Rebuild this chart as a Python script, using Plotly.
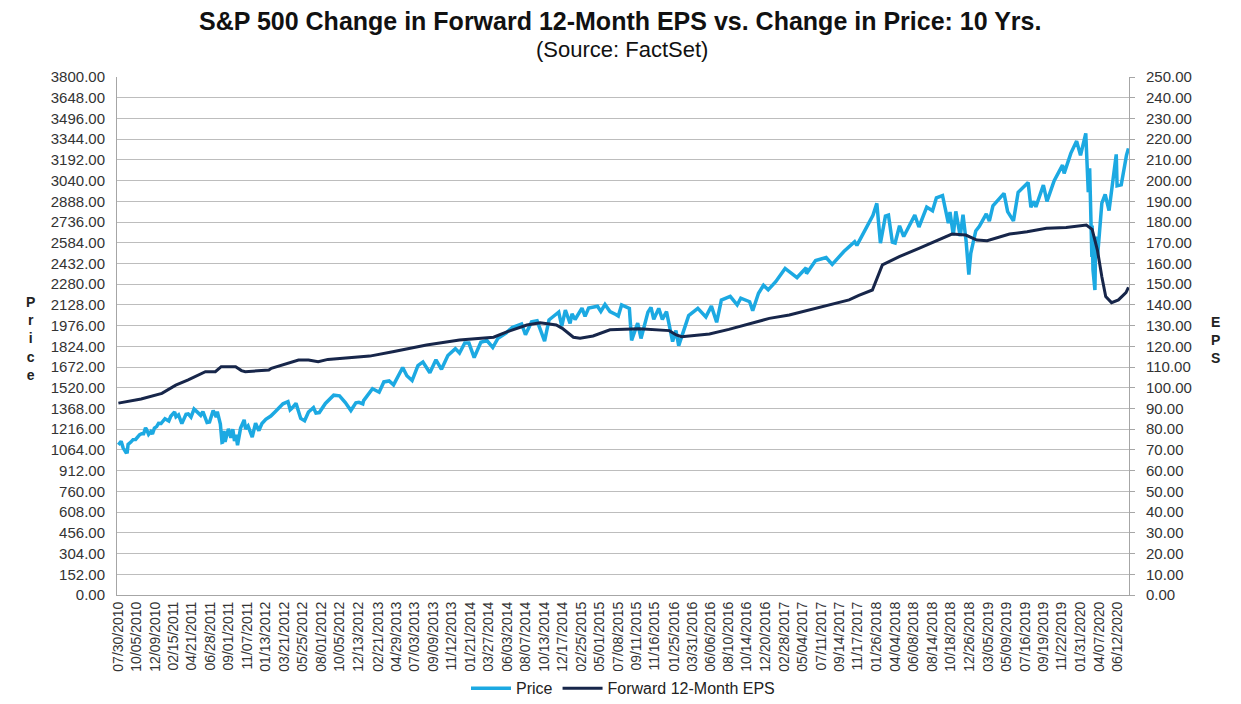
import plotly.graph_objects as go
from datetime import datetime

# ---------------- data ----------------
price_dates = [
    "2010-07-30","2010-08-05","2010-08-09","2010-08-16","2010-08-24","2010-08-26","2010-08-31","2010-09-03",
    "2010-09-13","2010-09-21","2010-09-30","2010-10-08","2010-10-15","2010-10-22","2010-10-29","2010-11-05",
    "2010-11-09","2010-11-16","2010-11-24","2010-11-30","2010-12-07","2010-12-15","2010-12-22","2010-12-31",
    "2011-01-14","2011-01-28","2011-02-04","2011-02-18","2011-02-23","2011-03-04","2011-03-10","2011-03-16",
    "2011-03-31","2011-04-08","2011-04-18","2011-04-29","2011-05-13","2011-05-23","2011-05-31","2011-06-15",
    "2011-06-24","2011-07-07","2011-07-18","2011-07-22","2011-08-02","2011-08-08","2011-08-10","2011-08-15",
    "2011-08-19","2011-08-31","2011-09-09","2011-09-16","2011-09-22","2011-09-27","2011-10-03","2011-10-14",
    "2011-10-27","2011-11-01","2011-11-10","2011-11-25","2011-12-07","2011-12-19","2011-12-30",
    "2012-01-13","2012-01-31","2012-02-15","2012-03-01","2012-03-15","2012-04-02","2012-04-10","2012-04-16",
    "2012-05-01","2012-05-18","2012-06-01","2012-06-15","2012-07-03","2012-07-12","2012-07-24","2012-08-15",
    "2012-09-14","2012-10-05","2012-10-26","2012-11-15","2012-12-03","2012-12-14","2012-12-28","2012-12-31",
    "2013-01-15","2013-02-01","2013-02-25","2013-03-14","2013-04-02","2013-04-18","2013-05-21","2013-06-05",
    "2013-06-24","2013-07-15","2013-08-02","2013-08-27","2013-09-18","2013-10-08","2013-10-31","2013-11-27",
    "2013-12-12","2013-12-31",
    "2014-01-15","2014-02-03","2014-02-27","2014-03-21","2014-04-11","2014-04-30","2014-05-30","2014-06-20",
    "2014-07-24","2014-08-07","2014-08-29","2014-09-18","2014-10-15","2014-10-31","2014-11-13","2014-12-05",
    "2014-12-16","2014-12-29",
    "2015-01-15","2015-01-22","2015-02-02","2015-02-27","2015-03-10","2015-03-23","2015-04-24","2015-05-06",
    "2015-05-21","2015-06-08","2015-06-29","2015-07-08","2015-07-20","2015-08-17","2015-08-25","2015-09-16",
    "2015-09-28","2015-10-23","2015-11-03","2015-11-13","2015-12-01","2015-12-14","2015-12-29",
    "2016-01-20","2016-02-01","2016-02-11","2016-03-18","2016-04-20","2016-05-19","2016-06-08","2016-06-27",
    "2016-07-14","2016-08-15","2016-09-09","2016-09-22","2016-10-24","2016-11-04","2016-11-25","2016-12-13",
    "2016-12-30",
    "2017-01-26","2017-03-01","2017-04-13","2017-05-16","2017-05-17","2017-06-19","2017-07-27","2017-08-18",
    "2017-09-29","2017-11-07","2017-11-15","2017-12-18",
    "2018-01-12","2018-01-26","2018-02-08","2018-02-26","2018-03-09","2018-03-23","2018-04-02","2018-04-18",
    "2018-05-03","2018-06-12","2018-06-27","2018-07-25","2018-08-15","2018-08-29","2018-09-20","2018-10-11",
    "2018-10-17","2018-10-29","2018-11-07","2018-11-23","2018-12-03","2018-12-14","2018-12-24","2018-12-31",
    "2019-01-18","2019-01-31","2019-02-25","2019-03-08","2019-03-21","2019-04-30","2019-05-13","2019-06-03",
    "2019-06-20","2019-07-26","2019-08-05","2019-08-16","2019-08-23","2019-09-19","2019-10-02","2019-10-28",
    "2019-11-27","2019-12-03","2019-12-27",
    "2020-01-17","2020-01-31","2020-02-19","2020-02-25","2020-02-28","2020-03-04","2020-03-09","2020-03-12",
    "2020-03-13","2020-03-16","2020-03-23","2020-03-26","2020-04-01","2020-04-17","2020-04-29","2020-05-13",
    "2020-06-08","2020-06-11","2020-06-26","2020-07-08","2020-07-15","2020-07-22",
]
price_values = [
    1101.6,1125.8,1127.8,1079.4,1051.9,1047.2,1049.3,1104.5,
    1121.9,1139.8,1141.2,1165.2,1176.2,1183.1,1183.3,1225.9,
    1213.4,1178.3,1198.4,1180.6,1223.8,1235.2,1258.8,1257.6,
    1293.2,1276.3,1310.9,1343.0,1307.4,1321.2,1295.1,1256.9,
    1325.8,1328.2,1305.1,1363.6,1337.8,1317.4,1345.2,1265.4,
    1268.5,1353.2,1305.4,1345.0,1254.1,1119.5,1120.8,1204.5,
    1123.5,1218.9,1154.2,1216.0,1129.6,1175.4,1099.2,1224.6,
    1284.6,1218.3,1239.7,1158.7,1261.0,1205.4,1257.6,
    1289.1,1312.4,1343.2,1374.1,1402.6,1419.0,1358.6,1369.6,
    1405.8,1295.2,1278.0,1342.8,1374.0,1334.8,1338.3,1405.5,
    1465.8,1460.9,1411.9,1353.3,1409.5,1413.6,1402.4,1426.2,
    1472.3,1513.2,1487.9,1563.2,1570.3,1541.6,1669.2,1608.9,
    1573.1,1682.5,1709.7,1630.5,1725.5,1655.5,1756.5,1807.2,
    1775.5,1848.4,
    1848.4,1741.9,1854.3,1866.5,1815.7,1883.9,1923.6,1962.9,
    1987.9,1909.6,2003.4,2011.4,1862.5,2018.1,2039.3,2075.4,
    1972.7,2090.6,
    1992.7,2063.2,2020.9,2104.5,2044.2,2104.4,2117.7,2080.2,
    2130.8,2079.3,2057.6,2046.7,2128.3,2102.4,1867.6,1995.3,
    1881.8,2075.2,2109.8,2023.0,2102.6,2021.9,2078.4,
    1859.3,1939.4,1829.1,2049.6,2102.4,2040.0,2119.1,2000.5,
    2163.8,2190.2,2127.8,2177.2,2151.3,2085.2,2213.4,2271.7,
    2238.8,
    2298.4,2395.9,2328.9,2400.7,2357.0,2453.5,2475.4,2425.6,
    2519.4,2591.1,2564.6,2690.2,
    2786.2,2872.9,2581.0,2779.6,2786.6,2588.3,2581.9,2708.6,
    2629.7,2786.9,2699.6,2846.1,2818.4,2914.0,2930.8,2728.4,
    2809.2,2641.3,2814.0,2632.6,2790.4,2599.0,2351.1,2506.9,
    2670.7,2704.1,2796.1,2743.1,2854.9,2945.8,2811.9,2744.5,
    2954.2,3025.9,2844.7,2888.7,2847.1,3006.8,2887.6,3039.4,
    3153.6,3093.2,3240.0,
    3329.6,3225.5,3386.2,3128.2,2954.2,3130.1,2746.6,2480.6,
    2711.0,2386.1,2237.4,2630.1,2470.5,2874.6,2939.5,2820.0,
    3232.4,3002.1,3009.1,3170.0,3226.6,3276.0,
]

eps_dates = [
    "2010-07-30","2010-10-20","2011-01-03","2011-02-22","2011-04-08","2011-06-09","2011-07-15","2011-08-05",
    "2011-09-26","2011-10-17","2011-10-31","2012-01-24","2012-02-02","2012-04-04","2012-05-10","2012-06-15",
    "2012-07-20","2012-08-24","2012-10-11","2012-12-03","2013-01-22","2013-04-15","2013-08-15","2013-12-12",
    "2014-04-14","2014-06-03","2014-08-12","2014-09-29","2014-11-26","2014-12-18","2015-01-27","2015-02-20",
    "2015-04-08","2015-06-08","2015-09-22","2016-01-08","2016-02-02","2016-02-22","2016-06-01","2016-08-10",
    "2016-10-20","2017-01-03","2017-03-16","2017-05-26","2017-08-08","2017-10-18","2017-11-22","2018-01-10",
    "2018-02-15","2018-04-17","2018-06-27","2018-09-07","2018-10-24","2018-12-13","2019-01-22","2019-02-28",
    "2019-05-20","2019-07-22","2019-09-30","2019-12-10","2020-02-21","2020-03-13","2020-04-01","2020-04-17",
    "2020-05-01","2020-05-22","2020-06-16","2020-07-13","2020-07-22",
]
eps_values = [
    92.6,94.6,97.3,101.3,103.8,107.8,107.8,110.2,
    110.2,108.3,107.8,108.6,109.4,111.8,113.4,113.4,
    112.6,113.7,114.2,114.7,115.3,117.4,120.7,123.1,
    124.4,127.1,130.3,131.4,130.3,128.7,124.4,123.9,
    125.0,128.0,128.5,127.6,125.5,124.7,126.0,128.2,
    130.8,133.5,135.1,137.5,140.0,142.4,144.6,147.2,
    159.3,163.3,167.3,171.3,174.2,173.7,171.3,171.0,
    174.2,175.3,177.0,177.4,178.6,176.5,166.5,153.6,
    144.0,141.1,142.4,145.9,148.5,
]

x_tick_labels = [
    "07/30/2010","10/05/2010","12/09/2010","02/15/2011","04/21/2011","06/28/2011","09/01/2011","11/07/2011",
    "01/13/2012","03/21/2012","05/25/2012","08/01/2012","10/05/2012","12/13/2012","02/21/2013","04/29/2013",
    "07/03/2013","09/09/2013","11/12/2013","01/21/2014","03/27/2014","06/03/2014","08/07/2014","10/13/2014",
    "12/17/2014","02/25/2015","05/01/2015","07/08/2015","09/11/2015","11/16/2015","01/25/2016","03/31/2016",
    "06/06/2016","08/10/2016","10/14/2016","12/20/2016","02/28/2017","05/04/2017","07/11/2017","09/14/2017",
    "11/17/2017","01/26/2018","04/04/2018","06/08/2018","08/14/2018","10/18/2018","12/26/2018","03/05/2019",
    "05/09/2019","07/16/2019","09/19/2019","11/22/2019","01/31/2020","04/07/2020","06/12/2020",
]
price_axis_max = 3800
price_axis_step = 152
eps_axis_max = 250
eps_axis_step = 10

# ---------------- figure ----------------
FONT = "Liberation Sans, Arial, sans-serif"
PRICE_COLOR = "#1CA9E2"
EPS_COLOR = "#17264A"
GRID = "#BDBDBD"
AXIS = "#A6A6A6"

tick_vals = [datetime.strptime(s, "%m/%d/%Y").strftime("%Y-%m-%d") for s in x_tick_labels]

fig = go.Figure()
fig.add_trace(go.Scatter(
    x=price_dates, y=price_values, name="Price", mode="lines",
    line=dict(color=PRICE_COLOR, width=3.5), yaxis="y",
))
fig.add_trace(go.Scatter(
    x=eps_dates, y=eps_values, name="Forward 12-Month EPS", mode="lines",
    line=dict(color=EPS_COLOR, width=3), yaxis="y2",
))

# the page body adds an 8px offset, so the figure is 8px smaller than the window
fig.update_layout(
    width=1233, height=696,
    margin=dict(l=109, r=112, t=69, b=109, autoexpand=False),
    paper_bgcolor="white", plot_bgcolor="white",
    font=dict(family=FONT, color="#222222", size=14),
    showlegend=True,
    legend=dict(orientation="h", x=0.5, xanchor="center", y=-0.18, yanchor="middle",
                font=dict(size=16, color="#222222"), itemwidth=40, traceorder="normal"),
    xaxis=dict(
        type="date",
        range=["2010-07-25", "2020-07-24"],
        tickmode="array", tickvals=tick_vals, ticktext=x_tick_labels,
        tickangle=-90, tickfont=dict(size=14, color="#333333"),
        showgrid=False, showline=True, linecolor=AXIS, linewidth=1,
        ticks="", zeroline=False, automargin=False,
    ),
    yaxis=dict(
        range=[0, price_axis_max], tick0=0, dtick=price_axis_step, tickformat=".2f",
        showgrid=True, gridcolor=GRID, gridwidth=1,
        showline=True, linecolor=AXIS, linewidth=1,
        tickfont=dict(size=15, color="#333333"), zeroline=False, ticks="",
        ticklabelstandoff=8, automargin=False,
    ),
    yaxis2=dict(
        range=[0, eps_axis_max], tick0=0, dtick=eps_axis_step, tickformat=".2f",
        overlaying="y", side="right", showgrid=False,
        showline=True, linecolor=AXIS, linewidth=1,
        ticks="outside", ticklen=5, tickcolor=AXIS,
        tickfont=dict(size=15, color="#333333"), zeroline=False,
        ticklabelstandoff=8, automargin=False,
    ),
)

fig.add_annotation(text="<b>S&P 500 Change in Forward 12-Month EPS vs. Change in Price: 10 Yrs.</b>",
                   xref="paper", yref="paper", x=0.497, y=1 + (77 - 21) / 518, xanchor="center",
                   yanchor="middle", showarrow=False, font=dict(size=25, color="#111111", family=FONT))
fig.add_annotation(text="(Source: FactSet)",
                   xref="paper", yref="paper", x=0.499, y=1 + (77 - 49) / 518, xanchor="center",
                   yanchor="middle", showarrow=False, font=dict(size=22, color="#111111", family=FONT))
fig.add_annotation(text="<b>P<br>r<br>i<br>c<br>e</b>",
                   xref="paper", yref="paper", x=(30 - 117) / 1012, y=(595 - 338) / 518,
                   xanchor="center", yanchor="middle", showarrow=False,
                   font=dict(size=14, color="#222222", family=FONT))
fig.add_annotation(text="<b>E<br>P<br>S</b>",
                   xref="paper", yref="paper", x=(1215 - 117) / 1012, y=(595 - 340) / 518,
                   xanchor="center", yanchor="middle", showarrow=False,
                   font=dict(size=14, color="#222222", family=FONT))

fig.write_html("out.html")
